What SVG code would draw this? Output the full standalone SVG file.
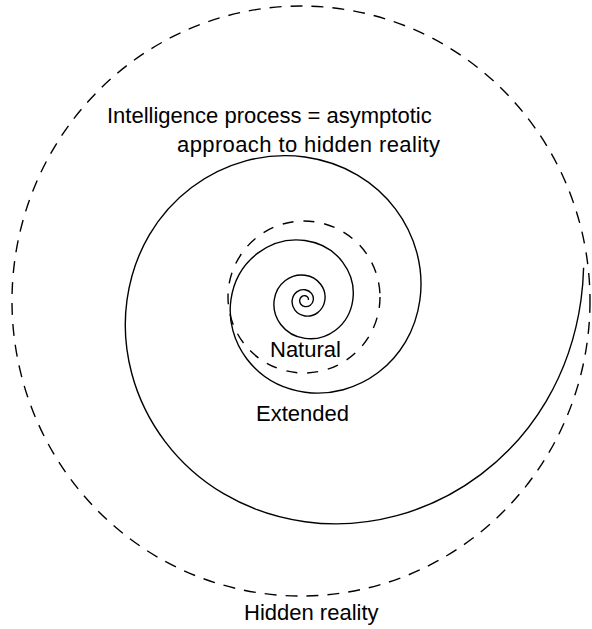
<svg xmlns="http://www.w3.org/2000/svg" width="592" height="629" viewBox="0 0 592 629">
  <style>
    .line { fill: none; stroke: #000; stroke-width: 1.4; }
    .dash-outer { stroke-dasharray: 12 9; }
    .dash-inner { stroke-dasharray: 11 10; }
    .label { font-family: "Liberation Sans", Arial, sans-serif; font-size: 22px; fill: #000; }
  </style>
  <rect width="592" height="629" fill="#fff"/>
  <g id="hidden-reality">
    <ellipse class="line dash-outer" cx="301" cy="301" rx="289" ry="295"/>
    <text class="label" x="244" y="620">Hidden reality</text>
  </g>
  <g id="natural">
    <circle class="line dash-inner" cx="304" cy="297" r="76"/>
    <text class="label" x="270" y="357">Natural</text>
  </g>
  <g id="intelligence-spiral">
    <path class="line" d="M 308.4 300
      C 308.66 298.12 307.37 296.03 305 295.7
      C 302.63 295.37 300.11 297.07 299.7 300
      C 299.29 302.93 301.35 306.09 305 306.6
      C 308.65 307.11 312.66 304.58 313.3 300
      C 313.94 295.42 310.69 290.49 305 289.7
      C 299.31 288.91 293.19 292.93 292.2 300
      C 291.21 307.07 296.16 314.77 305 316
      C 313.84 317.23 323.37 310.99 324.9 300
      C 326.43 289.01 318.64 277.2 305 275.3
      C 291.36 273.4 276.57 282.99 274.2 300
      C 271.83 317.01 283.79 335.44 305 338.4
      C 326.21 341.36 349.12 326.4 352.8 300
      C 356.48 273.6 337.86 245.08 305 240.5
      C 272.14 235.92 236.61 259.07 230.9 300
      C 225.19 340.93 254.08 385.1 305 392.2
      C 355.92 399.3 411.05 363.46 419.9 300
      C 428.75 236.54 383.98 168.01 305 157
      C 226.02 145.99 140.71 201.69 127 300
      C 113.29 398.31 182.56 504.63 305 521.7
      C 427.44 538.77 559.75 452.43 581 300
      C 582.5 289.4 583.3 278.6 583.6 267.8"/>
    <text class="label" x="107" y="123">Intelligence process = asymptotic</text>
    <text class="label" x="177" y="152" textLength="263" lengthAdjust="spacing">approach to hidden reality</text>
  </g>
  <g id="extended">
    <text class="label" x="256" y="421">Extended</text>
  </g>
</svg>
